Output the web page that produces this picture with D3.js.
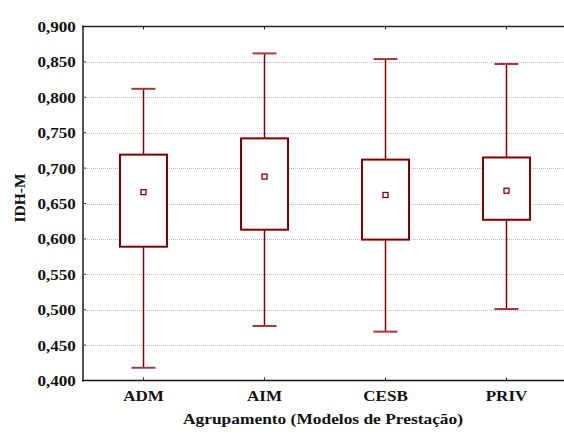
<!DOCTYPE html>
<html><head><meta charset="utf-8">
<script src="https://cdn.jsdelivr.net/npm/d3@7"></script>
<style>body{margin:0;background:#fff}svg{display:block}text{font-family:"Liberation Serif","Times New Roman",serif;font-weight:bold;fill:#111}</style>
</head><body><svg id="c" width="564" height="437"></svg>
<script>
const categories = ["ADM","AIM","CESB","PRIV"];
const whiskerLow  = [0.418,0.477,0.469,0.501];
const boxLow      = [0.589,0.613,0.599,0.627];
const meanValue   = [0.666,0.688,0.662,0.668];
const boxHigh     = [0.719,0.742,0.712,0.715];
const whiskerHigh = [0.812,0.862,0.854,0.847];
const yTicks = [0.400,0.450,0.500,0.550,0.600,0.650,0.700,0.750,0.800,0.850,0.900];

const svg = d3.select("#c");
const L=83, T=26.5, R=567, B=380.5;
const x = d3.scaleBand().domain(categories).range([L,R]);
const y = d3.scaleLinear().domain([0.4,0.9]).range([B,T]);
const fmt = v => d3.format(".3f")(v).replace(".",",");
const red = "#800000", capRed = "#a33a3a";

// grid
svg.append("g").selectAll("line").data(yTicks.filter(v=>v>0.4&&v<0.9)).join("line")
  .attr("x1",L).attr("x2",564).attr("y1",d=>Math.round(y(d))+0.5).attr("y2",d=>Math.round(y(d))+0.5)
  .attr("stroke","#bdbdbd").attr("stroke-width",1).attr("stroke-dasharray","1,1");

// y axis
const ya = svg.append("g").attr("transform",`translate(${L},0)`)
  .call(d3.axisLeft(y).tickValues(yTicks).tickFormat(fmt).tickSize(0).tickPadding(0));
ya.select(".domain").remove();
ya.selectAll("text").attr("x",-6.5).attr("font-size",15.5).attr("transform","scale(1.1,1)");
// inner ticks on left
svg.append("g").selectAll("line").data(yTicks).join("line")
  .attr("x1",L).attr("x2",L+3).attr("y1",d=>y(d)).attr("y2",d=>y(d)).attr("stroke","#444");
svg.append("line").attr("x1",L).attr("x2",L).attr("y1",T-1).attr("y2",B+1).attr("stroke","#555").attr("stroke-width",2);
svg.append("line").attr("x1",L-1).attr("x2",564).attr("y1",T).attr("y2",T).attr("stroke","#222").attr("stroke-width",1.5);
svg.append("line").attr("x1",L-1).attr("x2",564).attr("y1",B).attr("y2",B).attr("stroke","#111").attr("stroke-width",1.5);

// x axis
const xa = svg.append("g").attr("transform",`translate(0,${B})`)
  .call(d3.axisBottom(x).tickSize(0).tickPadding(0));
xa.select(".domain").remove();
xa.selectAll("text").attr("y",21).attr("dy",0).attr("x",0).attr("font-size",15.5).attr("transform","scale(1.1,1)");
svg.append("g").selectAll("line").data(categories).join("line")
  .attr("x1",d=>x(d)+x.bandwidth()/2).attr("x2",d=>x(d)+x.bandwidth()/2).attr("y1",B-3).attr("y2",B).attr("stroke","#222");
svg.append("g").selectAll("line").data(categories).join("line")
  .attr("x1",d=>x(d)+x.bandwidth()/2).attr("x2",d=>x(d)+x.bandwidth()/2).attr("y1",T).attr("y2",T+3).attr("stroke","#222");

// boxes
const bw=47, cw=24;
const g = svg.append("g");
categories.forEach((c,i)=>{
  const cx = x(c)+x.bandwidth()/2;
  g.append("line").attr("x1",cx).attr("x2",cx).attr("y1",y(whiskerHigh[i])).attr("y2",y(boxHigh[i])).attr("stroke",red).attr("stroke-width",1.5);
  g.append("line").attr("x1",cx).attr("x2",cx).attr("y1",y(boxLow[i])).attr("y2",y(whiskerLow[i])).attr("stroke",red).attr("stroke-width",1.5);
  g.append("line").attr("x1",cx-cw/2).attr("x2",cx+cw/2).attr("y1",y(whiskerHigh[i])).attr("y2",y(whiskerHigh[i])).attr("stroke",capRed).attr("stroke-width",2);
  g.append("line").attr("x1",cx-cw/2).attr("x2",cx+cw/2).attr("y1",y(whiskerLow[i])).attr("y2",y(whiskerLow[i])).attr("stroke",capRed).attr("stroke-width",2);
  g.append("rect").attr("x",cx-bw/2).attr("y",y(boxHigh[i])).attr("width",bw).attr("height",y(boxLow[i])-y(boxHigh[i]))
    .attr("fill","#fff").attr("stroke",red).attr("stroke-width",2);
  g.append("rect").attr("x",cx-2.5).attr("y",y(meanValue[i])-2.5).attr("width",5).attr("height",5)
    .attr("fill","#fff").attr("stroke",red).attr("stroke-width",1.3);
});

// titles
svg.append("text").attr("x",323).attr("y",424).attr("text-anchor","middle").attr("font-size",15.5)
  .attr("textLength",280).attr("lengthAdjust","spacingAndGlyphs").text("Agrupamento (Modelos de Prestação)");
svg.append("text").attr("transform","translate(25,198) rotate(-90)").attr("text-anchor","middle").attr("font-size",15.5)
  .text("IDH-M");
</script></body></html>
